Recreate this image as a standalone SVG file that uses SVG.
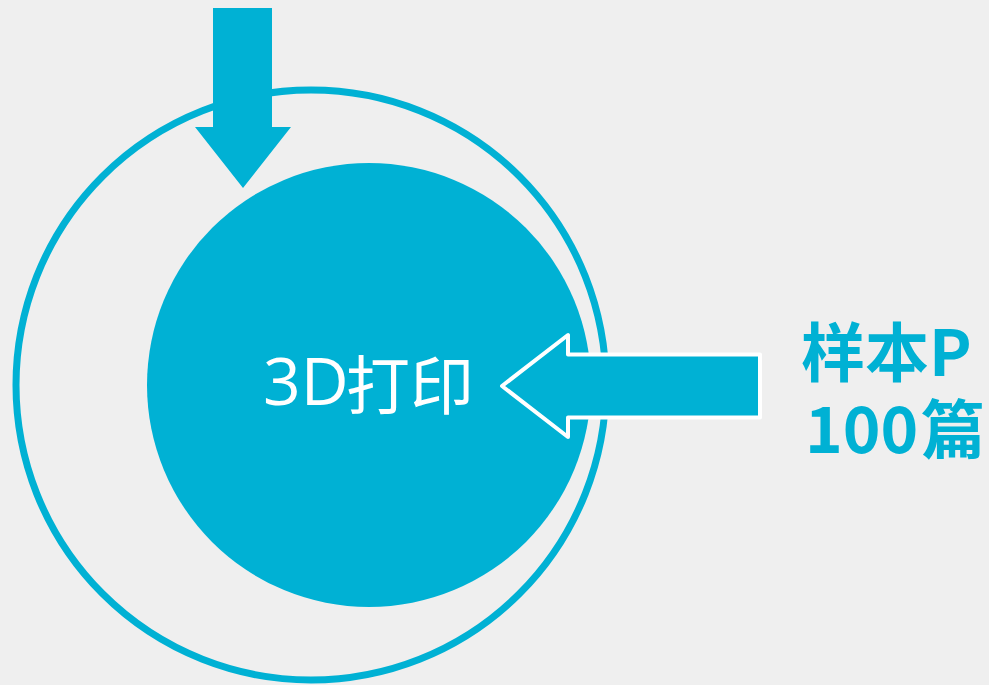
<svg xmlns="http://www.w3.org/2000/svg" width="989" height="685" viewBox="0 0 989 685">
<style>
.c{fill:#00b1d4}
.ring{fill:none;stroke:#00b1d4;stroke-width:7}
.t1{font-family:"Noto Sans CJK SC","Microsoft YaHei",sans-serif;fill:#ffffff;font-weight:400}
.t2{font-family:"Noto Sans CJK SC","Microsoft YaHei",sans-serif;font-size:64px;fill:#00b1d4;font-weight:700}
</style>
<rect width="989" height="685" fill="#efefef"/>
<g id="outer-ring"><circle class="ring" cx="311" cy="385" r="295"/></g>
<g id="core">
<circle class="c" cx="369" cy="385" r="222"/>
<text class="t1" x="263" y="405"><tspan font-family="'Open Sans',sans-serif" font-size="66">3D</tspan><tspan x="346" y="409" font-size="64">打印</tspan></text>
</g>
<g id="connectors">
<polygon class="c" points="213,8 272,8 272,127 291,127 243,188 195,127 213,127"/>
<polygon class="c" points="502,386 568,335 568,354.5 760,354.5 760,417.5 568,417.5 568,437" stroke="#ffffff" stroke-width="4" stroke-linejoin="round"/>
</g>
<g id="label">
<text class="t2"><tspan x="801" y="376">样本P</tspan><tspan x="805" y="453">100</tspan><tspan x="921" y="453">篇</tspan></text>
</g>
</svg>
